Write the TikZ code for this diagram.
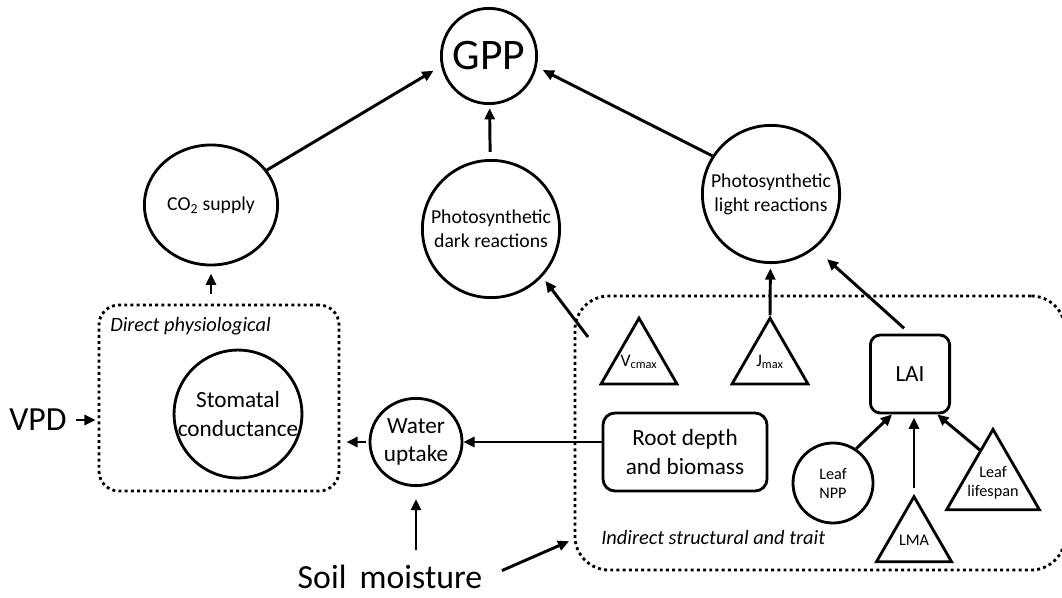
\documentclass[tikz,border=0pt]{standalone}
\usepackage{fontspec}
\setmainfont{Carlito}
\usetikzlibrary{shapes.geometric,arrows.meta}

\begin{document}
\begin{tikzpicture}[x=0.025cm, y=-0.025cm,
    bub/.style={circle, draw, line width=2pt, inner sep=0pt, align=center, minimum size=#1},
    oval/.style 2 args={ellipse, draw, line width=2pt, inner sep=0pt, align=center, minimum width=#1, minimum height=#2},
    tri/.style={regular polygon, regular polygon sides=3, draw, line width=2pt, inner sep=0pt, minimum size=#1},
    box/.style={rectangle, draw, line width=2pt, rounded corners=0.3cm, align=center},
    group/.style={rectangle, draw, line width=2pt, dash pattern=on 2.1pt off 2.3pt},
    arr/.style={-{Triangle[length=0.28cm,width=0.25cm]}, line width=2.1pt},
    big/.style={font=\fontsize{24}{29}\selectfont},
    mid/.style={font=\fontsize{16.5}{20}\selectfont},
    photo/.style={font=\fontsize{14}{17}\selectfont},
    smalltxt/.style={font=\fontsize{11.5}{13.5}\selectfont},
    rate/.style={font=\fontsize{12.5}{14}\selectfont},
    grouplbl/.style={font=\itshape\fontsize{14.5}{17}\selectfont, anchor=west, inner sep=0pt},
    every label/.style={align=center, inner sep=0pt}]
\useasboundingbox (0,0) rectangle (1062,597);

% top row
\node[bub=2.38cm, font=\fontsize{31}{36}\selectfont] (gpp) at (489,56) {GPP};
\node[oval={3.33cm}{3.0cm}, photo] (co2) at (211,205) {CO\textsubscript{2} supply};
\node[bub=3.43cm, photo] (dark) at (491,229) {Photosynthetic\\dark reactions};
\node[bub=3.43cm, photo] (light) at (771,194) {Photosynthetic\\light reactions};

% the two groups
\node[group, rounded corners=0.5cm, minimum width=6cm, minimum height=4.65cm] (direct) at (219,398) {};
\node[grouplbl] (directlbl) at (110,326) {Direct physiological};
\node[group, rounded corners=0.85cm, minimum width=12.25cm, minimum height=6.85cm] (indirect) at (820,433) {};
\node[grouplbl] (indirectlbl) at (601,537) {Indirect structural and trait};

\node[bub=3.18cm, mid] (stom) at (238,414) {Stomatal\\conductance};
\node[oval={2.3cm}{2.18cm}, mid] (water) at (416,442) {Water\\uptake};
\node[big] (vpd) at (38,420) {VPD};
\node[big] (soil) at (390,577) {Soil\, moisture};

\node[tri=2.19cm, label={[rate]center:V\textsubscript{cmax}}] (vcmax) at (639,362) {};
\node[tri=2.19cm, label={[rate]center:J\textsubscript{max}}] (jmax) at (770,362) {};
\node[box, mid, rounded corners=0.25cm, minimum width=1.98cm, minimum height=1.95cm] (lai) at (910,374) {LAI};
\node[box, mid, minimum width=4.1cm, minimum height=1.95cm] (root) at (685,452) {Root depth\\and biomass};
\node[bub=2cm, smalltxt] (npp) at (833,483) {Leaf\\NPP};
\node[tri=2.165cm, smalltxt] (lma) at (914,540) {LMA};
\node[tri=2.68cm, label={[smalltxt]center:Leaf\\lifespan}] (life) at (993,483) {};
\coordinate (vcfoot) at (588,337);

% arrows
\draw[arr, shorten >=0.22cm] (co2.32) -- (gpp.192);
\draw[arr, shorten <=0.18cm, shorten >=0.08cm] (dark) -- (gpp);
\draw[arr, shorten >=0.17cm] (light.147) -- (gpp.-13);
\draw[arr, shorten <=0.25cm, shorten >=0.18cm] (co2.south |- direct.north) -- (co2);
\draw[arr, shorten <=0.1cm, shorten >=0.05cm] (vpd) -- (direct.west |- vpd);
\draw[arr, shorten <=0.07cm, shorten >=0.15cm] (water) -- (direct.east |- water);
\draw[arr] (root.west |- water) -- (water);
\draw[arr, shorten <=0.25cm, shorten >=0.3cm] (water.south |- soil.north) -- (water);
\draw[arr, shorten <=0.4cm, shorten >=0.12cm] (soil.east) -- (indirect);
\draw[arr, shorten >=0.13cm] (vcfoot) -- (dark.-43);
\draw[arr, shorten >=0.11cm] (jmax.corner 1) -- (light);
\draw[arr, shorten <=0.2cm, shorten >=0.4cm] (lai.north) -- (light.-51);
\draw[arr] (npp.56) -- (lai.-114);
\draw[arr, shorten <=0.15cm, shorten >=0.08cm] (lma.corner 1) -- (lma.corner 1 |- lai.south);
\draw[arr] (life.112) -- (lai.-56);
\end{tikzpicture}
\end{document}
